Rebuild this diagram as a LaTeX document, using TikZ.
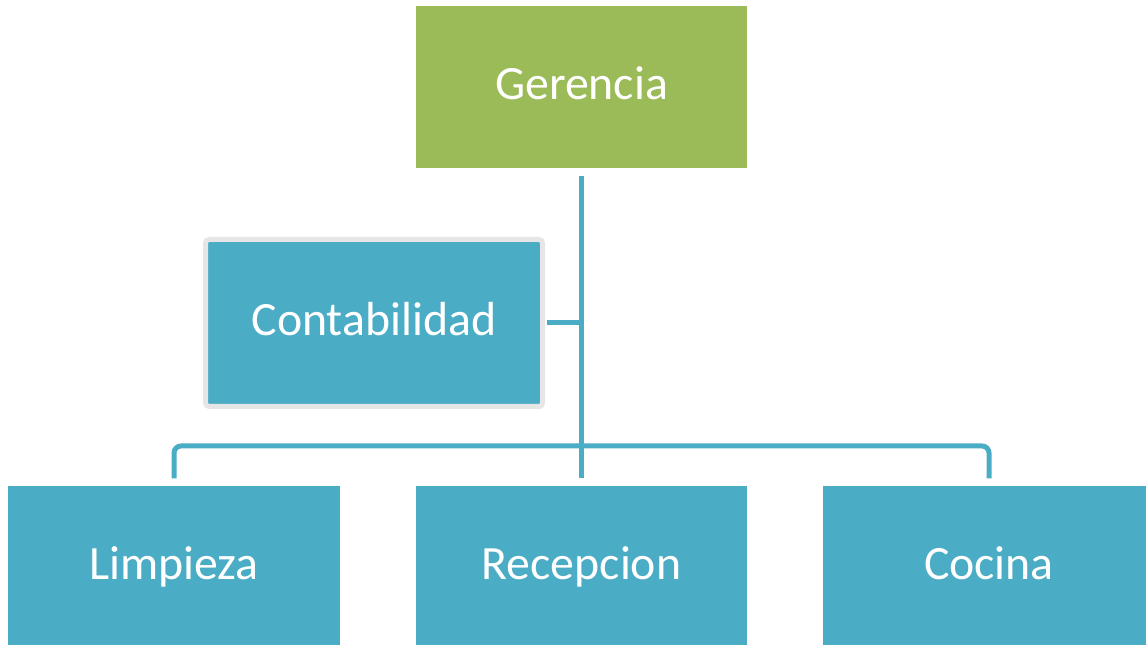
\documentclass[tikz,border=0pt]{standalone}
\usepackage{fontspec}
\setmainfont{Carlito}
\definecolor{boxblue}{HTML}{4BACC6}
\definecolor{boxgreen}{HTML}{9BBB59}
\definecolor{framegray}{HTML}{E6E6E6}
\tikzset{
  unit/.style={fill=boxblue, minimum width=3.32cm, minimum height=1.62cm,
    inner sep=0pt, text=white, text height=0.9em, text depth=0.17em,
    font=\fontsize{13.6}{16}\selectfont},
  link/.style={draw=boxblue, line width=0.05cm, shorten <=0.07cm, shorten >=0.07cm}
}

\begin{document}
\begin{tikzpicture}
		%%%%% START %%%%%
		\useasboundingbox (0, 0) rectangle (11.46, 6.45);
		\clip (0, 0) rectangle (11.46, 6.45);
		
		\node[unit, fill=boxgreen, minimum width=3.31cm] (ger) at (5.815, 5.58) {Gerencia};
		\node[unit, draw=framegray, line width=0.05cm, rounded corners=1pt,
		      minimum width=3.37cm, minimum height=1.67cm] (con) at (3.74, 3.22) {Contabilidad};
		
		\node[unit] (lim) at (1.74, 0.78) {Limpieza};
		\node[unit, minimum width=3.31cm] (rec) at (5.815, 0.78) {Recepcion};
		\node[unit] (coc) at (9.89, 0.78) {Cocina};
		
		\coordinate (bar) at (5.815, 1.99);
		
		\draw[link] (ger) -- (rec);
		\draw[link, shorten <=0.02cm, shorten >=0pt] (con.east) -- (con.east -| ger.south);
		\draw[link, rounded corners=2pt] (lim) |- (bar) -| (coc);
		
		%%%%% END %%%%%
	\end{tikzpicture}
\end{document}
